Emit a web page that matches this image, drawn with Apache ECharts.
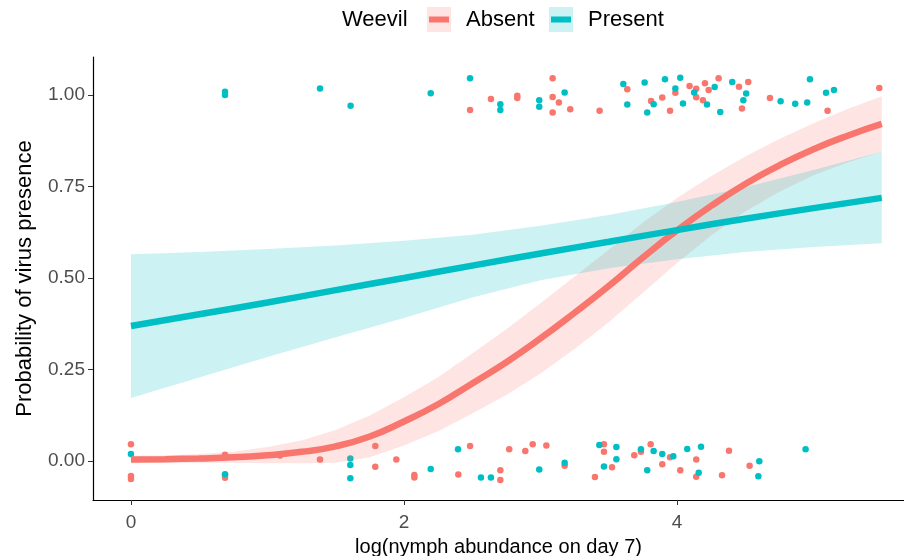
<!DOCTYPE html>
<html>
<head>
<meta charset="utf-8">
<script src="https://cdn.jsdelivr.net/npm/echarts@6/dist/echarts.min.js"></script>
<style>
  html, body { margin: 0; padding: 0; background: #fff; }
  #main { width: 904px; height: 556px; }
</style>
</head>
<body>
<div id="main"></div>
<script>
// jittered observations, [log abundance, presence]
var absentPts = [
  [2.484, 0.959], [2.637, 0.989], [2.83, 0.998], [2.83, 0.992], [3.089, 1.046], [3.089, 0.995],
  [3.135, 0.980], [3.089, 0.952], [3.218, 0.961], [3.433, 0.957], [3.636, 1.016], [3.81, 0.984],
  [3.892, 0.993], [3.949, 0.957], [3.988, 1.006], [4.092, 1.025], [4.141, 1.017], [4.141, 0.994],
  [4.190, 0.986], [4.205, 1.032], [4.232, 1.014], [4.305, 1.046], [4.454, 1.023], [4.522, 1.036],
  [4.476, 0.963], [4.681, 0.992], [5.103, 0.957], [5.482, 1.019],
  [0, 0.046], [0, -0.041], [0, -0.049], [0.689, -0.038], [0.689, -0.046], [0.689, 0.017],
  [1.092, 0.015], [1.385, 0.004], [1.79, 0.041], [1.79, -0.016], [1.944, 0.004], [2.076, -0.038],
  [2.076, -0.045], [2.484, 0.041], [2.398, -0.037], [2.706, -0.025], [2.706, -0.052], [2.771, 0.032],
  [2.889, 0.027], [2.943, 0.046], [3.043, 0.042], [3.177, -0.013], [3.399, -0.044], [3.465, 0.046],
  [3.465, 0.025], [3.524, -0.017], [3.687, 0.016], [3.736, 0.025], [3.807, 0.046], [3.892, -0.009],
  [3.949, 0.010], [4.024, -0.025], [4.141, 0.004], [4.141, -0.043], [4.330, -0.039], [4.381, 0.028],
  [4.532, -0.013]
];
var presentPts = [
  [0.689, 1.009], [0.689, 1.0], [1.385, 1.018], [1.609, 0.971], [2.196, 1.005], [2.484, 1.046],
  [2.706, 0.975], [2.706, 0.959], [2.991, 0.986], [2.991, 0.968], [3.177, 1.007], [3.607, 1.030],
  [3.636, 0.974], [3.763, 1.034], [3.829, 0.975], [3.782, 0.952], [3.912, 1.043], [3.988, 1.018],
  [4.024, 1.047], [4.044, 0.977], [4.126, 1.007], [4.220, 0.974], [4.276, 1.022], [4.317, 0.954],
  [4.405, 1.036], [4.507, 1.004], [4.486, 0.986], [4.759, 0.983], [4.866, 0.976], [4.954, 0.980],
  [4.974, 1.043], [5.092, 1.006], [5.150, 1.014],
  [0, 0.019], [0.689, -0.036], [1.607, 0.007], [1.607, -0.011], [1.607, -0.047], [2.196, -0.022],
  [2.396, 0.032], [2.564, -0.045], [2.637, -0.045], [2.991, -0.023], [3.177, -0.005], [3.431, 0.044],
  [3.465, -0.015], [3.556, 0.038], [3.556, 0.005], [3.736, 0.032], [3.782, -0.025], [3.829, 0.027],
  [3.892, 0.019], [3.973, 0.013], [4.075, 0.033], [4.176, 0.039], [4.159, -0.032], [4.603, -0.001],
  [4.596, -0.042], [4.942, 0.032]
];

// fitted curves and confidence bands
var absentX = [0, 0.25, 0.5, 0.75, 1, 1.25, 1.5, 1.75, 2, 2.25, 2.5, 2.75, 3, 3.25, 3.5, 3.75, 4, 4.25, 4.5, 4.75, 5, 5.25, 5.5];
var absentFit = [0.004, 0.005, 0.007, 0.010, 0.016, 0.025, 0.040, 0.067, 0.108, 0.155, 0.212, 0.270, 0.335, 0.405, 0.478, 0.556, 0.630, 0.697, 0.757, 0.808, 0.852, 0.889, 0.921];
var absentUpper = [0.014, 0.015, 0.019, 0.025, 0.038, 0.056, 0.085, 0.124, 0.174, 0.229, 0.294, 0.360, 0.431, 0.504, 0.577, 0.652, 0.719, 0.778, 0.832, 0.880, 0.923, 0.962, 0.997];
var absentLower = [-0.006, -0.005, -0.005, -0.005, -0.006, -0.006, -0.005, 0.010, 0.042, 0.081, 0.130, 0.180, 0.239, 0.306, 0.379, 0.460, 0.541, 0.616, 0.682, 0.736, 0.781, 0.816, 0.845];

var presentX = [0, 0.5, 1, 1.5, 2, 2.5, 3, 3.5, 4, 4.5, 5, 5.5];
var presentFit = [0.369, 0.401, 0.433, 0.467, 0.500, 0.534, 0.567, 0.599, 0.631, 0.662, 0.691, 0.719];
var presentUpper = [0.565, 0.571, 0.579, 0.589, 0.602, 0.618, 0.643, 0.672, 0.708, 0.748, 0.795, 0.845];
var presentLower = [0.172, 0.228, 0.284, 0.338, 0.391, 0.447, 0.494, 0.527, 0.551, 0.571, 0.585, 0.595];

var xTicks = [0, 2, 4];
var yTicks = [0, 0.25, 0.5, 0.75, 1];

var RED = '#F8766D';
var TEAL = '#00BFC4';
var FONT = '"Liberation Sans", Arial, sans-serif';

function pairs (xs, ys) {
  return xs.map(function (x, i) { return [x, ys[i]] })
}

// ribbon drawn as one polygon through the axis scales
function band (xs, up, lo, color) {
  return {
    type: 'custom',
    silent: true,
    z: 3,
    data: [[xs[0], lo[0]]],
    renderItem: function (params, api) {
      var pts = []
      xs.forEach(function (x, i) { pts.push(api.coord([x, up[i]])) })
      for (var i = xs.length - 1; i >= 0; i--) pts.push(api.coord([xs[i], lo[i]]))
      return {
        type: 'polygon',
        shape: { points: pts },
        style: { fill: color, opacity: 0.2 }
      }
    }
  }
}

function legendItem (x, color, label) {
  return [
    { type: 'rect', shape: { x: x, y: 7, width: 24, height: 25 }, style: { fill: color, opacity: 0.2 } },
    { type: 'line', shape: { x1: x + 2, y1: 19.5, x2: x + 22, y2: 19.5 }, style: { stroke: color, lineWidth: 6 } },
    { type: 'text', x: x + 39, y: 19.5, style: { text: label, font: '22px ' + FONT, fill: '#000', verticalAlign: 'middle' } }
  ]
}

var chart = echarts.init(document.getElementById('main'))

var option = {
  animation: false,
  backgroundColor: '#fff',
  grid: { left: 93, right: 0, top: 57, bottom: 56, outerBoundsMode: 'none', containLabel: false },
  xAxis: {
    type: 'value', min: -0.278, max: 5.663,
    name: 'log(nymph abundance on day 7)', nameLocation: 'middle', nameGap: 37,
    nameTextStyle: { fontSize: 20, color: '#000', fontFamily: FONT },
    axisLine: { onZero: false, lineStyle: { color: '#000', width: 1.2 } },
    axisTick: { show: true, length: 5, lineStyle: { color: '#333' }, customValues: xTicks },
    axisLabel: { customValues: xTicks, fontSize: 19, color: '#4D4D4D', fontFamily: FONT, margin: 13 },
    splitLine: { show: false }
  },
  yAxis: {
    type: 'value', min: -0.1066, max: 1.104,
    name: 'Probability of virus presence', nameLocation: 'middle', nameGap: 57,
    nameTextStyle: { fontSize: 22, color: '#000', fontFamily: FONT },
    axisLine: { show: true, onZero: false, lineStyle: { color: '#000', width: 1.2 } },
    axisTick: { show: true, length: 5, lineStyle: { color: '#333' }, customValues: yTicks },
    axisLabel: {
      customValues: yTicks, fontSize: 19, color: '#4D4D4D', fontFamily: FONT, margin: 8,
      formatter: function (v) { return v.toFixed(2) }
    },
    splitLine: { show: false }
  },
  graphic: [
    { type: 'text', x: 342, y: 19.5, style: { text: 'Weevil', font: '22px ' + FONT, fill: '#000', verticalAlign: 'middle' } }
  ].concat(legendItem(427, RED, 'Absent'), legendItem(549, TEAL, 'Present')),
  series: [
    { name: 'Absent', type: 'scatter', data: absentPts, symbolSize: 6.5, itemStyle: { color: RED, opacity: 1 }, z: 2 },
    { name: 'Present', type: 'scatter', data: presentPts, symbolSize: 6.5, itemStyle: { color: TEAL, opacity: 1 }, z: 2 },
    band(absentX, absentUpper, absentLower, RED),
    band(presentX, presentUpper, presentLower, TEAL),
    { name: 'Absent fit', type: 'line', smooth: true, symbol: 'none', data: pairs(absentX, absentFit), lineStyle: { color: RED, width: 6.5 }, z: 4 },
    { name: 'Present fit', type: 'line', smooth: true, symbol: 'none', data: pairs(presentX, presentFit), lineStyle: { color: TEAL, width: 6.5 }, z: 4 }
  ]
}

chart.setOption(option)
</script>
</body>
</html>
